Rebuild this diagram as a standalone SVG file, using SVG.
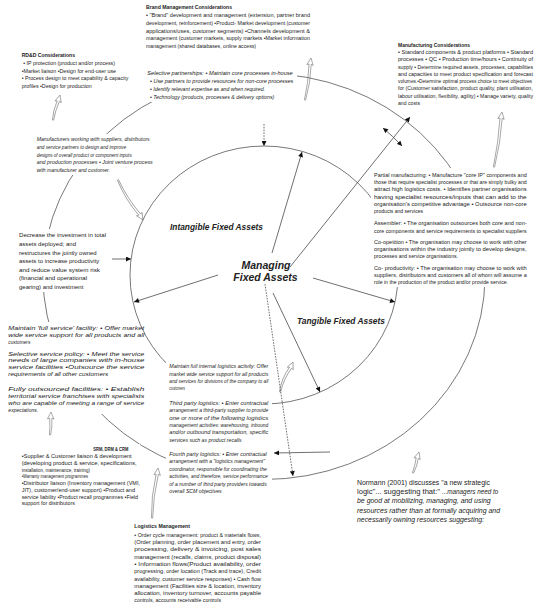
<svg xmlns="http://www.w3.org/2000/svg" width="535" height="610" viewBox="0 0 535 610">
<style>
.t{font-family:"Liberation Sans",Arial,sans-serif;fill:#222}
.i{font-style:italic}
.b{font-weight:bold}
.ln{stroke:#4a4a4a;stroke-width:0.8;fill:none}
.ring{stroke:#555;stroke-width:0.8;fill:none}
.sc{stroke:#6a6a6a;stroke-width:0.55;fill:none}
.bg{fill:#fff}
.fbr{font-size:5.6px}.fsp{font-size:5.6px}.frd{font-size:5.3px}.fmf{font-size:4.8px}.fpm{font-size:5.2px}
.fmw{font-size:4.9px}.fdc{font-size:6px}.fsv{font-size:5.6px}.flo{font-size:4.9px}
.fsr{font-size:5.4px}.flm{font-size:5.6px}.fno{font-size:7px}
.lab{font-size:8.3px;font-weight:bold;font-style:italic}
.big{font-size:10.5px;font-weight:bold;font-style:italic}
</style>
<defs>
<marker id="ah" viewBox="0 0 10 10" refX="10" refY="5" markerWidth="6" markerHeight="5" orient="auto" markerUnits="userSpaceOnUse"><path d="M0,0 L10,5 L0,10 z" fill="#111"/></marker>
<marker id="ahs" viewBox="0 0 10 10" refX="10" refY="5" markerWidth="6" markerHeight="5" orient="auto-start-reverse" markerUnits="userSpaceOnUse"><path d="M0,0 L10,5 L0,10 z" fill="#111"/></marker>
</defs>
<rect width="535" height="610" fill="#fff"/>

<g id="rings">
<ellipse class="ring" cx="264" cy="276.5" rx="221" ry="203"/>
<ellipse class="ring" cx="264" cy="275" rx="134" ry="129"/>
</g>

<g id="masks">
<rect class="bg" x="145" y="68" width="152" height="34"/>
<rect class="bg" x="34" y="134" width="121" height="41"/>
<rect class="bg" x="15" y="229" width="99" height="63"/>
<rect class="bg" x="4" y="322" width="100" height="92"/>
<rect class="bg" x="371" y="168" width="164" height="119"/>
<rect class="bg" x="166" y="360" width="106" height="136"/>
<rect class="bg" x="19" y="444" width="121" height="64"/>
</g>

<g id="connectors">
<path class="ln" d="M264,124 L264,146" stroke-dasharray="1.6,1.2" marker-end="url(#ah)"/>
<path class="ln" d="M272,253 L302,152" marker-end="url(#ah)"/>
<path class="ln" d="M290,267 L410,117" marker-end="url(#ah)"/>
<path class="ln" d="M383,128 A193,193 0 0 1 402,146" marker-start="url(#ahs)" marker-end="url(#ahs)"/>
<path class="ln" d="M112,259 L131,259" marker-end="url(#ah)"/>
<path class="ln" d="M218,275 L134,302" marker-end="url(#ah)"/>
<path class="ln" d="M313,278 L395,302" marker-end="url(#ah)"/>
<path class="ln" d="M265,284 L293,476" stroke-dasharray="1.6,1.2" marker-end="url(#ah)"/>
<path class="ln" d="M273,293 L320,392" marker-end="url(#ah)"/>
<path class="ln" d="M330,452 L274,453" marker-end="url(#ah)"/>
</g>

<g id="scribbles">
<path class="sc" transform="translate(311,58) rotate(8.1)" d="M0,0 L-3.2,7 L-1.1,6.3 Q0.9,24.4 -0.6,42.4 L0.6,42.4 Q3.1,24.4 1.1,6.3 L3.2,7 Z"/>
<path class="sc" transform="translate(60,95) rotate(15.6)" d="M0,0 L-3.2,7 L-1.1,6.3 Q-2.6,16.2 -0.6,26 L0.6,26 Q-0.4,16.2 1.1,6.3 L3.2,7 Z"/>
<path class="sc" transform="translate(502,112) rotate(8.3)" d="M0,0 L-3.2,7 L-1.1,6.3 Q0.9,31 -0.6,55.6 L0.6,55.6 Q3.1,31 1.1,6.3 L3.2,7 Z"/>
<path class="sc" transform="translate(143,220) rotate(148)" d="M0,0 L-3.2,7 L-1.1,6.3 Q1.9,26.8 -0.6,47.2 L0.6,47.2 Q4.1,26.8 1.1,6.3 L3.2,7 Z"/>
<path class="sc" transform="translate(51,412) rotate(2.5)" d="M0,0 L-3.2,7 L-1.1,6.3 Q-0.1,14.7 -0.6,23 L0.6,23 Q2.1,14.7 1.1,6.3 L3.2,7 Z"/>
<path class="sc" transform="translate(293,362) rotate(23.4)" d="M0,0 L-3.2,7 L-1.1,6.3 Q-4.1,19.5 -0.6,32.7 L0.6,32.7 Q-1.9,19.5 1.1,6.3 L3.2,7 Z"/>
<path class="sc" transform="translate(158,468) rotate(6.8)" d="M0,0 L-3.2,7 L-1.1,6.3 Q-3.6,28.4 -0.6,50.4 L0.6,50.4 Q-1.4,28.4 1.1,6.3 L3.2,7 Z"/>
<path class="sc" transform="translate(419,452) rotate(15.9)" d="M0,0 L-3.2,7 L-1.1,6.3 Q-0.1,14 -0.6,21.8 L0.6,21.8 Q2.1,14 1.1,6.3 L3.2,7 Z"/>
</g>

<g id="brand" class="t fbr">
<text class="b" x="146" y="8.5" textLength="86" lengthAdjust="spacingAndGlyphs">Brand Management Considerations</text>
<text x="146" y="17.3" textLength="164" lengthAdjust="spacingAndGlyphs">• "Brand" development and management (extension, partner brand</text>
<text x="146" y="25" textLength="164" lengthAdjust="spacingAndGlyphs">development, reinforcement) •Product- Market development (customer</text>
<text x="146" y="32.7" textLength="164" lengthAdjust="spacingAndGlyphs">applications/uses, customer segments) •Channels development &amp;</text>
<text x="146" y="40.4" textLength="164" lengthAdjust="spacingAndGlyphs">management (customer markets, supply markets •Market information</text>
<text x="146" y="48.1" textLength="110" lengthAdjust="spacingAndGlyphs">management (shared databases, online access)</text>
</g>

<g id="selective-partnerships" class="t fsp i">
<text x="147.3" y="75.2" textLength="145.4" lengthAdjust="spacingAndGlyphs">Selective partnerships:    • Maintain core processes in-house</text>
<text x="150" y="83.3" textLength="143.3" lengthAdjust="spacingAndGlyphs">• Use partners to provide resources for non-core processes</text>
<text x="150" y="91.1" textLength="115" lengthAdjust="spacingAndGlyphs">• Identify relevant expertise as and when required.</text>
<text x="150" y="99" textLength="124.3" lengthAdjust="spacingAndGlyphs">• Technology (products, processes &amp; delivery options)</text>
</g>

<g id="rdd" class="t frd">
<text class="b" x="21.7" y="56.8" textLength="53.3" lengthAdjust="spacingAndGlyphs">RD&amp;D Considerations</text>
<text x="23.3" y="64.5" textLength="91.7" lengthAdjust="spacingAndGlyphs">• IP protection (product and/or process)</text>
<text x="21.7" y="72.5" textLength="94.3" lengthAdjust="spacingAndGlyphs">•Market liaison •Design for end-user use</text>
<text x="21.7" y="80.1" textLength="106.6" lengthAdjust="spacingAndGlyphs">• Process design to meet capability &amp; capacity</text>
<text x="21.7" y="87.8" textLength="70" lengthAdjust="spacingAndGlyphs">profiles •Design for production</text>
</g>

<g id="manufacturing" class="t fmf">
<text class="b" x="398" y="46.6" textLength="72" lengthAdjust="spacingAndGlyphs">Manufacturing Considerations</text>
<text x="398" y="53.9" textLength="135" lengthAdjust="spacingAndGlyphs">• Standard components &amp; product platforms • Standard</text>
<text x="398" y="61.2" textLength="135" lengthAdjust="spacingAndGlyphs">processes • QC • Production time/hours • Continuity of</text>
<text x="398" y="68.5" textLength="135" lengthAdjust="spacingAndGlyphs">supply • Determine required assets, processes, capabilities</text>
<text x="398" y="75.8" textLength="135" lengthAdjust="spacingAndGlyphs">and capacities to meet product specification and forecast</text>
<text x="398" y="83.1" textLength="134" lengthAdjust="spacingAndGlyphs">volumes.•Determine optimal process choice to meet objectives</text>
<text x="398" y="90.4" textLength="134.7" lengthAdjust="spacingAndGlyphs">for (Customer satisfaction, product quality, plant utilisation,</text>
<text x="398" y="97.7" textLength="135" lengthAdjust="spacingAndGlyphs">labour utilisation, flexibility, agility) • Manage variety, quality</text>
<text x="398" y="105" textLength="22" lengthAdjust="spacingAndGlyphs">and costs</text>
</g>

<g id="partial-manufacturing" class="t fpm">
<text x="374" y="176.8" textLength="152.7" lengthAdjust="spacingAndGlyphs">Partial manufacturing:   • Manufacture "core IP" components and</text>
<text x="374" y="184.1" textLength="152.7" lengthAdjust="spacingAndGlyphs">those that require specialist processes or that are simply bulky and</text>
<text x="374" y="191.4" textLength="152.7" lengthAdjust="spacingAndGlyphs">attract high logistics costs. • Identifies partner organisations</text>
<text x="374" y="198.7" textLength="152.7" lengthAdjust="spacingAndGlyphs">having specialist resources/inputs that can add to the</text>
<text x="374" y="206" textLength="152.7" lengthAdjust="spacingAndGlyphs">organisation's competitive advantage  •  Outsource non-core</text>
<text x="374" y="213.3" textLength="49" lengthAdjust="spacingAndGlyphs">products and services</text>
<text x="374" y="225.1" textLength="152.7" lengthAdjust="spacingAndGlyphs">Assembler:  • The organisation outsources both core and non-</text>
<text x="374" y="232.5" textLength="152.7" lengthAdjust="spacingAndGlyphs">core components and service requirements to specialist suppliers</text>
<text x="374" y="243.5" textLength="152.7" lengthAdjust="spacingAndGlyphs">Co-opetition  • The organisation may choose to work with other</text>
<text x="374" y="250.8" textLength="152.7" lengthAdjust="spacingAndGlyphs">organisations within the industry jointly to develop designs,</text>
<text x="374" y="258.1" textLength="84" lengthAdjust="spacingAndGlyphs">processes and service organisations.</text>
<text x="374" y="269.5" textLength="152.7" lengthAdjust="spacingAndGlyphs">Co- productivity:  • The organisation may choose to work with</text>
<text x="374" y="276.8" textLength="152.7" lengthAdjust="spacingAndGlyphs">suppliers, distributors and customers all of whom will assume a</text>
<text x="374" y="284.1" textLength="134" lengthAdjust="spacingAndGlyphs">role in the production of the product and/or provide service.</text>
</g>

<g id="manufacturers-working" class="t fmw i">
<text x="36.7" y="141.4" textLength="113" lengthAdjust="spacingAndGlyphs">Manufacturers working with suppliers, distributors</text>
<text x="36.7" y="149" textLength="89.3" lengthAdjust="spacingAndGlyphs">and service partners to design and improve</text>
<text x="36.7" y="156.6" textLength="95" lengthAdjust="spacingAndGlyphs">designs of overall product or component inputs</text>
<text x="36.7" y="164.2" textLength="116" lengthAdjust="spacingAndGlyphs">and production processes   • Joint venture process</text>
<text x="36.7" y="171.8" textLength="73.3" lengthAdjust="spacingAndGlyphs">with manufacturer and customer.</text>
</g>

<g id="decrease-investment" class="t fdc">
<text x="19" y="237.3" textLength="87" lengthAdjust="spacingAndGlyphs">Decrease the investment in total</text>
<text x="19" y="245.9" textLength="57" lengthAdjust="spacingAndGlyphs">assets deployed; and</text>
<text x="19" y="254.5" textLength="77.7" lengthAdjust="spacingAndGlyphs">restructures the jointly owned</text>
<text x="19" y="263.1" textLength="80.3" lengthAdjust="spacingAndGlyphs">assets to increase productivity</text>
<text x="19" y="271.7" textLength="81" lengthAdjust="spacingAndGlyphs">and reduce value system risk</text>
<text x="19" y="280.3" textLength="68" lengthAdjust="spacingAndGlyphs">(financial and operational</text>
<text x="19" y="288.9" textLength="64.3" lengthAdjust="spacingAndGlyphs">gearing) and investment</text>
</g>

<g id="service-policies" class="t fsv i">
<text x="8.3" y="330.3" textLength="136" lengthAdjust="spacingAndGlyphs">Maintain 'full service' facility:   • Offer market</text>
<text x="8.3" y="337.1" textLength="136" lengthAdjust="spacingAndGlyphs">wide service support for all products and all</text>
<text x="8.3" y="343.9" textLength="22" lengthAdjust="spacingAndGlyphs">customers</text>
<text x="8.3" y="355.5" textLength="136" lengthAdjust="spacingAndGlyphs">Selective service policy:   • Meet the service</text>
<text x="8.3" y="362.3" textLength="136" lengthAdjust="spacingAndGlyphs">needs of large companies with in-house</text>
<text x="8.3" y="369.1" textLength="136" lengthAdjust="spacingAndGlyphs">service facilities •Outsource the service</text>
<text x="8.3" y="376" textLength="100" lengthAdjust="spacingAndGlyphs">requirements of all other customers</text>
<text x="8.3" y="391.3" textLength="136" lengthAdjust="spacingAndGlyphs">Fully outsourced facilities:   • Establish</text>
<text x="8.3" y="398.1" textLength="136" lengthAdjust="spacingAndGlyphs">territorial service franchises with specialists</text>
<text x="8.3" y="404.9" textLength="136" lengthAdjust="spacingAndGlyphs">who are capable of meeting a range of service</text>
<text x="8.3" y="411.7" textLength="30" lengthAdjust="spacingAndGlyphs">expectations.</text>
</g>

<g id="logistics-options" class="t flo i">
<text x="169.3" y="368.3" textLength="99" lengthAdjust="spacingAndGlyphs">Maintain full internal logistics activity: Offer</text>
<text x="169.3" y="375.6" textLength="99" lengthAdjust="spacingAndGlyphs">market wide service support for all products</text>
<text x="169.3" y="382.9" textLength="99" lengthAdjust="spacingAndGlyphs">and services for divisions of the company to all</text>
<text x="169.3" y="390.2" textLength="15.7" lengthAdjust="spacingAndGlyphs">customers</text>
<text x="169.3" y="404.9" textLength="99" lengthAdjust="spacingAndGlyphs">Third party logistics:   • Enter contractual</text>
<text x="169.3" y="412.3" textLength="99" lengthAdjust="spacingAndGlyphs">arrangement a third-party supplier to provide</text>
<text x="169.3" y="419.6" textLength="99" lengthAdjust="spacingAndGlyphs">one or more of the following logistics</text>
<text x="169.3" y="427" textLength="99" lengthAdjust="spacingAndGlyphs">management activities: warehousing, inbound</text>
<text x="169.3" y="434.4" textLength="99" lengthAdjust="spacingAndGlyphs">and/or outbound transportation, specific</text>
<text x="169.3" y="441.8" textLength="72.3" lengthAdjust="spacingAndGlyphs">services such as product recalls</text>
<text x="169.3" y="455.9" textLength="97.4" lengthAdjust="spacingAndGlyphs">Fourth party logistics:   • Enter contractual</text>
<text x="169.3" y="463.3" textLength="95.7" lengthAdjust="spacingAndGlyphs">arrangement with a "logistics management"</text>
<text x="169.3" y="470.7" textLength="97.4" lengthAdjust="spacingAndGlyphs">coordinator, responsible for coordinating the</text>
<text x="169.3" y="478.1" textLength="98.4" lengthAdjust="spacingAndGlyphs">activities, and therefore, service performance</text>
<text x="169.3" y="485.5" textLength="97.4" lengthAdjust="spacingAndGlyphs">of a number of third party providers towards</text>
<text x="169.3" y="492.9" textLength="52.4" lengthAdjust="spacingAndGlyphs">overall SCM objectives</text>
</g>

<g id="srm-drm-crm" class="t fsr">
<text class="b" x="93.3" y="451.3" textLength="35" lengthAdjust="spacingAndGlyphs">SRM, DRM &amp; CRM</text>
<text x="21.7" y="458" textLength="110" lengthAdjust="spacingAndGlyphs">•Supplier &amp; Customer liaison &amp; development</text>
<text x="21.7" y="464.8" textLength="115" lengthAdjust="spacingAndGlyphs">(developing product &amp; service, specifications,</text>
<text x="21.7" y="471.5" textLength="68.3" lengthAdjust="spacingAndGlyphs">installation, maintenance, training)</text>
<text x="21.7" y="478.3" textLength="66.3" lengthAdjust="spacingAndGlyphs">•Warranty management programmes</text>
<text x="21.7" y="485" textLength="118.3" lengthAdjust="spacingAndGlyphs">•Distributor liaison (Inventory management (VMI,</text>
<text x="21.7" y="491.8" textLength="113.3" lengthAdjust="spacingAndGlyphs">JIT), customer/end-user support) •Product and</text>
<text x="21.7" y="498.5" textLength="116.3" lengthAdjust="spacingAndGlyphs">service liability •Product recall programmes •Field</text>
<text x="21.7" y="505.3" textLength="53.3" lengthAdjust="spacingAndGlyphs">support for distributors</text>
</g>

<g id="logistics-management" class="t flm">
<text class="b" x="134.3" y="527.8" textLength="55.7" lengthAdjust="spacingAndGlyphs">Logistics Management</text>
<text x="134.3" y="536.8" textLength="126.7" lengthAdjust="spacingAndGlyphs">• Order cycle management: product &amp; materials flows,</text>
<text x="134.3" y="544.1" textLength="126.7" lengthAdjust="spacingAndGlyphs">(Order planning, order placement and entry, order</text>
<text x="134.3" y="551.3" textLength="126.7" lengthAdjust="spacingAndGlyphs">processing, delivery &amp; invoicing, post sales</text>
<text x="134.3" y="558.6" textLength="126.7" lengthAdjust="spacingAndGlyphs">management (recalls, claims, product disposal)</text>
<text x="134.3" y="565.8" textLength="126.7" lengthAdjust="spacingAndGlyphs">• Information flows(Product availability, order</text>
<text x="134.3" y="573.2" textLength="126.7" lengthAdjust="spacingAndGlyphs">progressing, order location  (Track and trace), Credit</text>
<text x="134.3" y="580.5" textLength="126.7" lengthAdjust="spacingAndGlyphs">availability, customer service responses)  • Cash flow</text>
<text x="134.3" y="587.8" textLength="126.7" lengthAdjust="spacingAndGlyphs">management (Facilities size &amp; location, inventory</text>
<text x="134.3" y="595.1" textLength="126.7" lengthAdjust="spacingAndGlyphs">allocation, inventory turnover, accounts payable</text>
<text x="134.3" y="602.4" textLength="86.7" lengthAdjust="spacingAndGlyphs">controls, accounts receivable controls</text>
</g>

<g id="normann" class="t fno">
<text x="357" y="484.5" textLength="133" lengthAdjust="spacingAndGlyphs">Normann (2001) discusses "a new strategic</text>
<text x="357" y="493.9" textLength="83" lengthAdjust="spacingAndGlyphs">logic"... suggesting that:"</text>
<text class="i" x="442" y="493.9" textLength="56.3" lengthAdjust="spacingAndGlyphs">...managers need to</text>
<text class="i" x="357" y="503.3" textLength="133.7" lengthAdjust="spacingAndGlyphs">be good at mobilizing, managing, and using</text>
<text class="i" x="357" y="512.7" textLength="143" lengthAdjust="spacingAndGlyphs">resources rather than at formally acquiring and</text>
<text class="i" x="357" y="522.1" textLength="127" lengthAdjust="spacingAndGlyphs">necessarily owning resources suggesting:</text>
</g>

<g id="labels" class="t">
<text class="lab" x="170" y="230" textLength="93" lengthAdjust="spacingAndGlyphs">Intangible Fixed Assets</text>
<text class="big" x="266" y="268.5" text-anchor="middle">Managing</text>
<text class="big" x="265.5" y="280.5" text-anchor="middle">Fixed Assets</text>
<text class="lab" x="297" y="324" textLength="88" lengthAdjust="spacingAndGlyphs">Tangible Fixed Assets</text>
</g>
</svg>
